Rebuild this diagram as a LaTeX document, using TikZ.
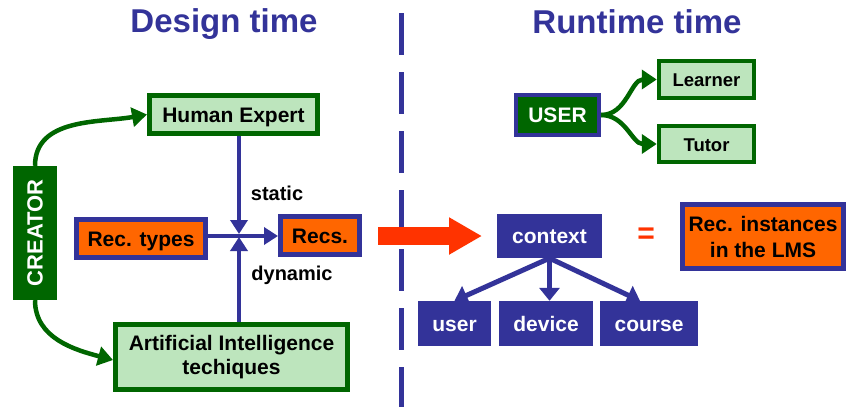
\documentclass[tikz,border=0pt]{standalone}
\usepackage{fontspec}
\setmainfont{Liberation Sans}
\usetikzlibrary{arrows.meta,calc}
\definecolor{dblue}{HTML}{333399}
\definecolor{dgreen}{HTML}{006600}
\definecolor{lgreen}{HTML}{BDE5BD}
\definecolor{orng}{HTML}{FF6600}
\definecolor{redar}{HTML}{FF3300}
\tikzset{
  txt/.style={font=\fontsize{21}{24}\selectfont\bfseries, align=center, inner sep=0pt},
  one/.style={text height=16.5pt, text depth=1.5pt},
  gbox/.style={txt, draw=dgreen, fill=lgreen, line width=5pt},
  obox/.style={txt, draw=dblue, fill=orng, line width=5pt},
  bbox/.style={txt, one, fill=dblue, text=white},
  title/.style={font=\fontsize{33}{36}\selectfont\bfseries, text=dblue},
  lbl/.style={font=\fontsize{20}{24}\selectfont\bfseries},
  bluearrow/.style={draw=dblue, line width=4pt, -{Triangle[length=14pt,width=17pt]}},
  greenarrow/.style={draw=dgreen, line width=4.5pt, -{Triangle[length=15pt,width=19pt]}},
  ctxarrow/.style={draw=dblue, line width=5pt, -{Triangle[length=13pt,width=20pt]}}
}
\begin{document}
\begin{tikzpicture}[x=1pt,y=-1pt]
\useasboundingbox (0,0) rectangle (850,407);
\fill[white] (0,0) rectangle (850,407);

% titles
\node[title] (t1) at (224,24) {Design time};
\node[title] (t2) at (637,22) {Runtime time};

% dashed divider
\coordinate (dtop) at (401,13);
\coordinate (dbot) at (401,407);
\draw[dblue, line width=5pt, dash pattern=on 42pt off 17pt] (dtop) -- (dbot);

% design time
\node[txt, fill=dgreen, text=white, rotate=90, minimum width=134pt, minimum height=44pt, font=\fontsize{22}{24}\selectfont\bfseries] (cr) at (35,233) {CREATOR};
\node[gbox, one, minimum width=168pt, minimum height=38pt] (he) at (233.5,114.5) {Human Expert};
\node[gbox, minimum width=232pt, minimum height=65pt] (ai) at (231.5,357) {Artificial Intelligence\\techiques};
\node[obox, one, minimum width=129pt, minimum height=38pt] (rt) at (141,238.5) {Rec. types};
\node[obox, one, minimum width=79pt, minimum height=38pt] (rc) at (320,235.5) {Recs.};
\coordinate (J) at (239,236);

\draw[draw=dblue, line width=4pt] (rt.east |- J) -- (J);
\draw[bluearrow] (J) -- (rc.west |- J);
\draw[bluearrow, shorten >=2pt] (he.south -| J) -- (J);
\draw[bluearrow, shorten >=1pt] (ai.north -| J) -- (J);
\node[lbl] (st) at (277,193) {static};
\node[lbl] (dy) at (292,275) {dynamic};

\draw[greenarrow] (cr.east) to[out=90,in=190] (he.west);
\draw[greenarrow] (cr.west) to[out=-90,in=165] ([yshift=-3pt]ai.west);

% red arrow
\draw[redar, line width=18pt, -{Triangle[length=33pt,width=35pt]}, shorten <=16pt, shorten >=15pt] (rc.east |- J) -- (J -| 497,0);

% runtime
\node[txt, one, fill=dgreen, text=white, draw=dblue, line width=4pt, minimum width=83pt, minimum height=40pt] (us) at (557.5,115) {USER};
\node[gbox, line width=4.5pt, text height=15pt, text depth=1pt, minimum width=95pt, minimum height=37pt, font=\fontsize{18.5}{22}\selectfont\bfseries] (le) at (706.5,79.5) {Learner};
\node[gbox, line width=4.5pt, text height=15pt, text depth=1pt, minimum width=95pt, minimum height=36pt, font=\fontsize{18.5}{22}\selectfont\bfseries] (tu) at (706.5,144) {Tutor};
\draw[greenarrow] (us.east) to[out=0,in=180] (le.west);
\draw[greenarrow] (us.east) to[out=0,in=180] (tu.west);

\node[bbox, minimum width=105pt, minimum height=44pt] (ctx) at (549.5,236) {context};
\node[bbox, minimum width=73pt, minimum height=45pt] (u) at (454.5,323.5) {user};
\node[bbox, minimum width=94pt, minimum height=45pt] (dv) at (546,323.5) {device};
\node[bbox, minimum width=98pt, minimum height=45pt] (co) at (649,323.5) {course};
\draw[ctxarrow] (ctx.south) -- (u.north);
\draw[ctxarrow] (ctx.south) -- (ctx.south |- dv.north);
\draw[ctxarrow] (ctx.south) -- ([xshift=-9pt]co.north);

\node[font=\fontsize{30}{30}\selectfont\bfseries, text=redar] (eq) at (646,236) {=};
\node[obox, minimum width=161pt, minimum height=64pt, font=\fontsize{21}{26}\selectfont\bfseries] (ri) at (763,236.5) {Rec. instances\\in the LMS};
\end{tikzpicture}
\end{document}
